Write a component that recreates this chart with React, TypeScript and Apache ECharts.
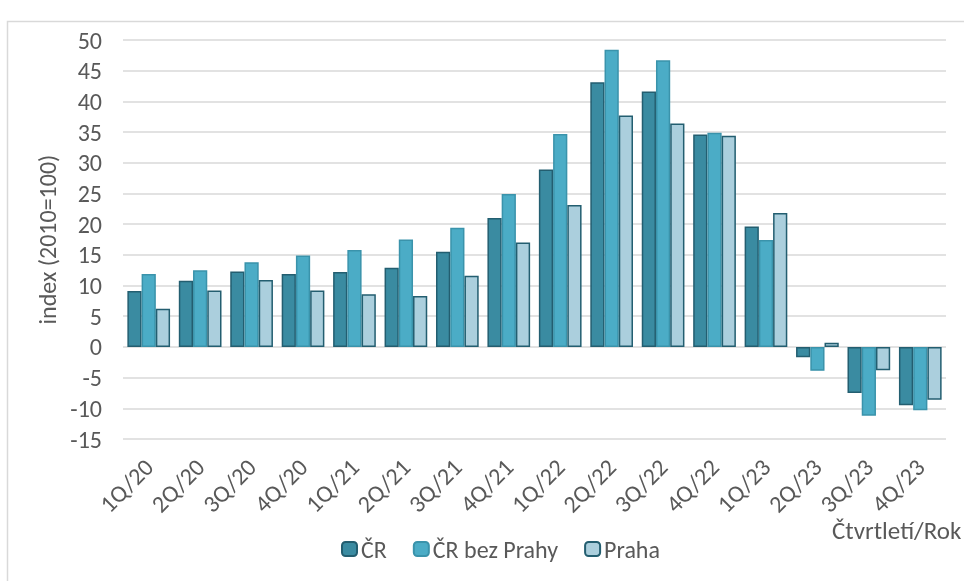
import React, { useEffect, useRef } from "react";
import * as echarts from "echarts";

const categories = ["1Q/20", "2Q/20", "3Q/20", "4Q/20", "1Q/21", "2Q/21", "3Q/21", "4Q/21", "1Q/22", "2Q/22", "3Q/22", "4Q/22", "1Q/23", "2Q/23", "3Q/23", "4Q/23"];
const cr = [9.1, 10.8, 12.3, 11.9, 12.2, 12.9, 15.5, 21.0, 28.9, 43.1, 41.6, 34.6, 19.6, -1.7, -7.5, -9.5];
const crBezPrahy = [11.9, 12.5, 13.8, 14.9, 15.8, 17.5, 19.4, 24.9, 34.7, 48.4, 46.7, 34.9, 17.4, -3.9, -11.2, -10.3];
const praha = [6.2, 9.2, 10.9, 9.2, 8.6, 8.3, 11.6, 17.0, 23.1, 37.7, 36.4, 34.4, 21.8, 0.7, -3.8, -8.6];
const seriesNames = ["ČR", "ČR bez Prahy", "Praha"];
const yAxisTitle = "index (2010=100)";
const xAxisTitle = "Čtvrtletí/Rok";

const FONT = "Carlito, 'Open Sans', sans-serif";
const TXT = "#595959";

export default function App() {
  const ref = useRef<HTMLDivElement>(null);
  useEffect(() => {
    if (!ref.current) return;
    const chart = echarts.init(ref.current, null, { renderer: "svg" });
    chart.setOption({
      animation: false,
      textStyle: { fontFamily: FONT },
      graphic: [
        {
          type: "rect",
          shape: { x: 7.5, y: 21.5, width: 1000, height: 1000 },
          style: { fill: "none", stroke: "#d9d9d9", lineWidth: 1.5 },
          silent: true,
        },
        {
          type: "text",
          left: 832,
          top: 518,
          style: { text: xAxisTitle, fontSize: 25, fill: TXT, fontFamily: FONT },
        },
      ],
      grid: { left: 123, right: 18, top: 40, bottom: 142 },
      legend: {
        left: 336,
        top: 532,
        itemWidth: 15,
        itemHeight: 14,
        itemGap: 26,
        textStyle: { fontSize: 24, color: TXT, fontFamily: FONT, padding: [0, 0, 0, -1] },
        data: seriesNames,
      },
      xAxis: {
        type: "category",
        data: categories,
        axisLine: { show: false, onZero: false },
        axisTick: { show: false },
        axisLabel: { rotate: 45, fontSize: 24, color: TXT, margin: 24, interval: 0, fontFamily: FONT },
      },
      yAxis: {
        type: "value",
        min: -15,
        max: 50,
        interval: 5,
        name: yAxisTitle,
        nameLocation: "middle",
        nameGap: 64,
        nameTextStyle: { fontSize: 24, color: TXT, fontFamily: FONT },
        axisLine: { show: false },
        axisTick: { show: false },
        axisLabel: { fontSize: 24, color: TXT, margin: 21, fontFamily: FONT },
        splitLine: { lineStyle: { color: "#d9d9d9", width: 1.5 } },
      },
      series: [
        {
          name: seriesNames[0],
          type: "bar",
          data: cr,
          barGap: "0%",
          barCategoryGap: "17%",
          itemStyle: { color: "#3a8ba1", borderColor: "#235e70", borderWidth: 1.5 },
        },
        {
          name: seriesNames[1],
          type: "bar",
          data: crBezPrahy,
          barGap: "0%",
          barCategoryGap: "17%",
          itemStyle: { color: "#4bacc6", borderColor: "#3a93ab", borderWidth: 1.5 },
        },
        {
          name: seriesNames[2],
          type: "bar",
          data: praha,
          barGap: "0%",
          barCategoryGap: "17%",
          itemStyle: { color: "#abcfdd", borderColor: "#235e70", borderWidth: 1.5 },
        },
      ],
    });
    return () => chart.dispose();
  }, []);
  return <div ref={ref} style={{ position: "fixed", left: 0, top: 0, width: 964, height: 581 }} />;
}
